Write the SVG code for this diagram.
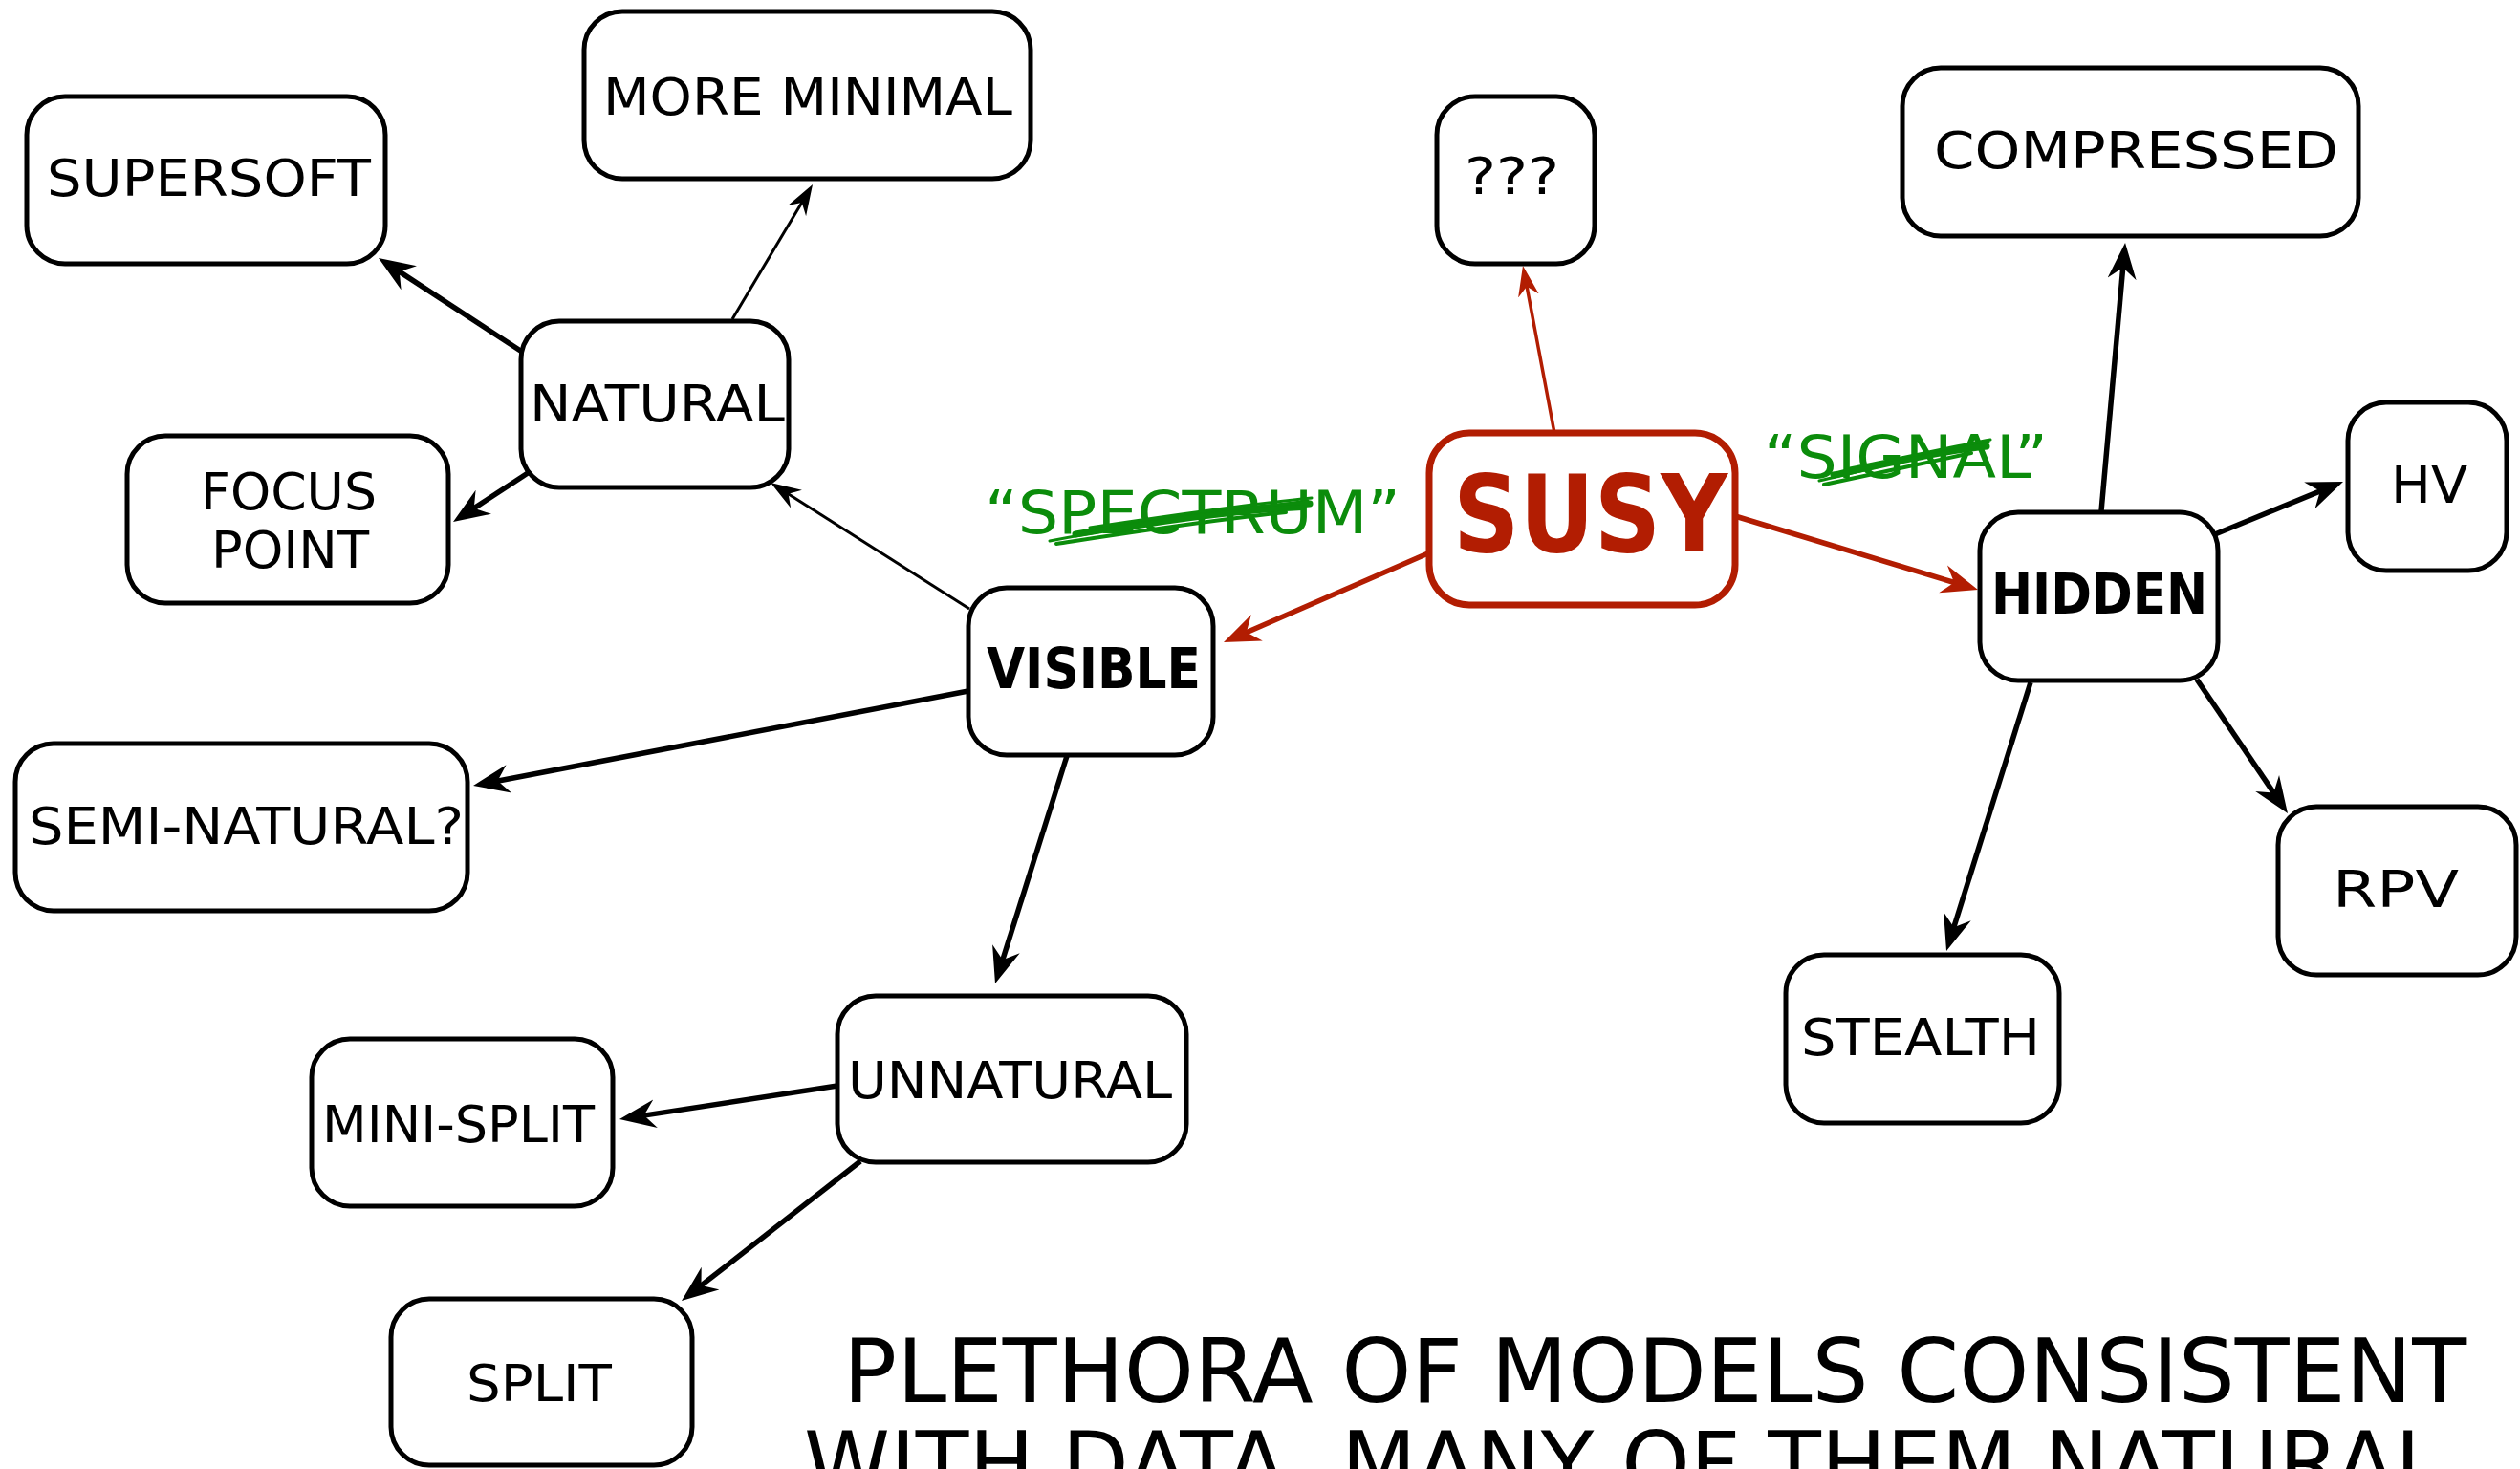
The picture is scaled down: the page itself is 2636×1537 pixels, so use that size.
<svg xmlns="http://www.w3.org/2000/svg" width="2636" height="1537" viewBox="0 0 2636 1537">
<style>
.box{fill:#fff;stroke:#000;stroke-width:5}
.lbl{font-family:"DejaVu Sans","Liberation Sans",sans-serif;font-size:54px;fill:#000}
.bold{font-weight:bold;font-size:59px}
.cap{font-family:"DejaVu Sans","Liberation Sans",sans-serif;font-size:92px;fill:#000}
.thick{fill:none;stroke:#000;stroke-width:5.5}
.thin{fill:none;stroke:#000;stroke-width:3}
.rthick{fill:none;stroke:#b21d02;stroke-width:5.5}
.rthin{fill:none;stroke:#b21d02;stroke-width:3.5}
.green{font-family:"DejaVu Sans","Liberation Sans",sans-serif;font-size:63px;fill:#0b8c0b}
.scr{fill:none;stroke:#0b8c0b;stroke-linecap:round}
</style>
<defs>
<marker id="aT" markerUnits="userSpaceOnUse" markerWidth="40" markerHeight="32" viewBox="0 -16 40 32" refX="14" refY="0" orient="auto"><path d="M38,0 L0,-15 L12,0 L0,15 Z" fill="#000"/></marker>
<marker id="at" markerUnits="userSpaceOnUse" markerWidth="34" markerHeight="24" viewBox="0 -12 34 24" refX="12" refY="0" orient="auto"><path d="M32,0 L0,-11 L10,0 L0,11 Z" fill="#000"/></marker>
<marker id="rT" markerUnits="userSpaceOnUse" markerWidth="40" markerHeight="32" viewBox="0 -16 40 32" refX="14" refY="0" orient="auto"><path d="M38,0 L0,-15 L12,0 L0,15 Z" fill="#b21d02"/></marker>
<marker id="rt" markerUnits="userSpaceOnUse" markerWidth="34" markerHeight="24" viewBox="0 -12 34 24" refX="12" refY="0" orient="auto"><path d="M32,0 L0,-11 L10,0 L0,11 Z" fill="#b21d02"/></marker>
</defs>
<rect width="2636" height="1537" fill="#fff"/>
<g id="connectors">
<path class="thin" d="M766,334 L839.8,210.2" marker-end="url(#at)"/>
<path class="thick" d="M546,368 L416.1,283.1" marker-end="url(#aT)"/>
<path class="thick" d="M552,495 L494.1,532.9" marker-end="url(#aT)"/>
<path class="thin" d="M1014,637 L822.9,515.7" marker-end="url(#at)"/>
<path class="thick" d="M1013,723 L518.6,817.5" marker-end="url(#aT)"/>
<path class="thick" d="M1116,791 L1048.2,1006.1" marker-end="url(#aT)"/>
<path class="thick" d="M876,1136 L671.7,1167.4" marker-end="url(#aT)"/>
<path class="thick" d="M900,1215 L731.9,1346.2" marker-end="url(#aT)"/>
<path class="rthin" d="M1626,453 L1596.7,297.7" marker-end="url(#rt)"/>
<path class="rthick" d="M1496,578 L1302,662.4" marker-end="url(#rT)"/>
<path class="rthick" d="M1815,540 L2046,610" marker-end="url(#rT)"/>
<path class="thick" d="M2198,535 L2220.9,277.9" marker-end="url(#aT)"/>
<path class="thick" d="M2317,559 L2428.8,513.1" marker-end="url(#aT)"/>
<path class="thick" d="M2298,711 L2379.5,831.1" marker-end="url(#aT)"/>
<path class="thick" d="M2124,714 L2043.2,972.1" marker-end="url(#aT)"/>
</g>
<g id="more-minimal"><rect class="box" x="611" y="12" width="467" height="175" rx="40"/><text class="lbl" x="631" y="120" textLength="428" lengthAdjust="spacingAndGlyphs">MORE MINIMAL</text></g>
<g id="supersoft"><rect class="box" x="28" y="101" width="375" height="175" rx="40"/><text class="lbl" x="49" y="205" textLength="339" lengthAdjust="spacingAndGlyphs">SUPERSOFT</text></g>
<g id="natural"><rect class="box" x="545" y="336" width="280" height="174" rx="40"/><text class="lbl" x="554" y="441" textLength="267" lengthAdjust="spacingAndGlyphs">NATURAL</text></g>
<g id="focus-point"><rect class="box" x="133" y="456" width="336" height="175" rx="40"/><text class="lbl" x="210" y="533" textLength="184" lengthAdjust="spacingAndGlyphs">FOCUS</text><text class="lbl" x="221" y="594" textLength="165" lengthAdjust="spacingAndGlyphs">POINT</text></g>
<g id="visible"><rect class="box" x="1013" y="615" width="256" height="175" rx="40"/><text class="lbl bold" x="1032" y="720" textLength="224" lengthAdjust="spacingAndGlyphs">VISIBLE</text></g>
<g id="semi-natural"><rect class="box" x="16" y="778" width="473" height="175" rx="40"/><text class="lbl" x="30" y="883" textLength="455" lengthAdjust="spacingAndGlyphs">SEMI-NATURAL?</text></g>
<g id="unnatural"><rect class="box" x="876" y="1042" width="365" height="174" rx="40"/><text class="lbl" x="887" y="1149" textLength="339" lengthAdjust="spacingAndGlyphs">UNNATURAL</text></g>
<g id="mini-split"><rect class="box" x="326" y="1087" width="315" height="175" rx="40"/><text class="lbl" x="337" y="1195" textLength="285" lengthAdjust="spacingAndGlyphs">MINI-SPLIT</text></g>
<g id="split"><rect class="box" x="409" y="1359" width="315" height="174" rx="40"/><text class="lbl" x="488" y="1466" textLength="152" lengthAdjust="spacingAndGlyphs">SPLIT</text></g>
<g id="unknown"><rect class="box" x="1503" y="101" width="165" height="175" rx="40"/><text class="lbl" x="1532" y="203" textLength="99" lengthAdjust="spacingAndGlyphs">???</text></g>
<g id="susy"><rect x="1495" y="453" width="320" height="180" rx="42" fill="#fff" stroke="#b21d02" stroke-width="7"/><text x="1520" y="577" textLength="287" lengthAdjust="spacingAndGlyphs" font-family="DejaVu Sans, Liberation Sans, sans-serif" font-size="112" font-weight="bold" fill="#b21d02">SUSY</text></g>
<g id="compressed"><rect class="box" x="1990" y="71" width="477" height="176" rx="40"/><text class="lbl" x="2023" y="176" textLength="423" lengthAdjust="spacingAndGlyphs">COMPRESSED</text></g>
<g id="hidden"><rect class="box" x="2071" y="536" width="249" height="176" rx="40"/><text class="lbl bold" x="2083" y="642" textLength="226" lengthAdjust="spacingAndGlyphs">HIDDEN</text></g>
<g id="hv"><rect class="box" x="2456" y="421" width="166" height="176" rx="40"/><text class="lbl" x="2501" y="526" textLength="80" lengthAdjust="spacingAndGlyphs">HV</text></g>
<g id="rpv"><rect class="box" x="2383" y="844" width="249" height="176" rx="40"/><text class="lbl" x="2440" y="949" textLength="132" lengthAdjust="spacingAndGlyphs">RPV</text></g>
<g id="stealth"><rect class="box" x="1868" y="999" width="286" height="176" rx="40"/><text class="lbl" x="1884" y="1104" textLength="250" lengthAdjust="spacingAndGlyphs">STEALTH</text></g>
<g id="spectrum-label">
<text class="green" x="1030" y="558" textLength="435" lengthAdjust="spacingAndGlyphs">“SPECTRUM”</text>
<path class="scr" stroke-width="3" d="M1098,566 C1180,550 1280,536 1368,524"/>
<path class="scr" stroke-width="7" d="M1125,559 C1200,546 1290,533 1370,527"/>
<path class="scr" stroke-width="6" d="M1160,555 C1230,543 1300,534 1362,531"/>
<path class="scr" stroke-width="4" d="M1105,569 C1190,556 1260,545 1345,536"/>
<path class="scr" stroke-width="3" d="M1140,552 C1220,540 1300,528 1372,521"/>
</g>
<g id="signal-label">
<text class="green" x="1845" y="500" textLength="297" lengthAdjust="spacingAndGlyphs">“SIGNAL”</text>
<path class="scr" stroke-width="3" d="M1903,503 C1960,490 2020,474 2080,462"/>
<path class="scr" stroke-width="7" d="M1918,497 C1970,486 2030,472 2078,467"/>
<path class="scr" stroke-width="4" d="M1908,507 C1960,496 2010,485 2062,474"/>
<path class="scr" stroke-width="3" d="M1935,490 C1990,479 2040,468 2082,460"/>
</g>
<g id="caption">
<text class="cap" x="882" y="1467" textLength="1698" lengthAdjust="spacingAndGlyphs">PLETHORA OF MODELS CONSISTENT</text>
<text class="cap" x="841" y="1564" textLength="1715" lengthAdjust="spacingAndGlyphs">WITH DATA, MANY OF THEM NATURAL</text>
</g>
</svg>
